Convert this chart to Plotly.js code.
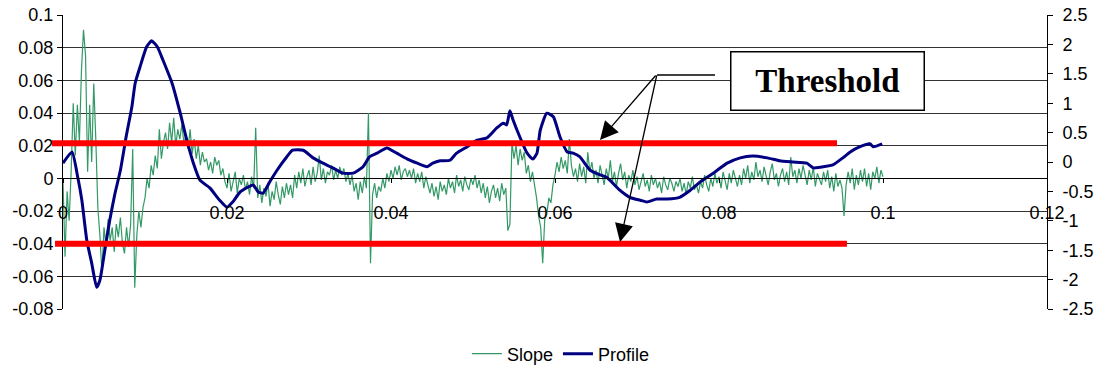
<!DOCTYPE html>
<html>
<head>
<meta charset="utf-8">
<script src="https://cdn.plot.ly/plotly-3.0.1.min.js"></script>
<style>
html,body{margin:0;padding:0;background:#fff;}
#chart{width:1101px;height:368px;}
</style>
</head>
<body>
<div id="chart"></div>
<script>
// ---- Data ----
// Slope series: sampled every 0.00025 along x, from 0 to 0.1
var slopeStep = 0.00025;
var slopeValues = [
 -0.002,-0.048,-0.008,-0.026,0.005,0.046,0.014,0.045,0.022,0.066,
 0.091,0.075,0.004,0.045,0.010,0.058,0.024,-0.018,-0.035,-0.058,
 -0.030,-0.042,-0.025,-0.038,-0.030,-0.045,-0.028,-0.036,-0.024,-0.040,
 -0.046,-0.030,-0.042,-0.028,0.018,-0.067,-0.035,-0.020,-0.030,-0.018,
 -0.012,0.000,-0.006,0.008,0.002,0.014,0.006,0.030,0.012,0.022,
 0.028,0.018,0.034,0.022,0.037,0.020,0.030,0.024,0.033,0.021,
 0.027,0.018,0.030,0.015,0.024,0.012,0.020,0.008,0.016,0.010,
 0.012,0.005,0.010,0.003,0.013,0.008,0.011,0.002,0.006,-0.002,
 -0.006,0.003,-0.008,-0.001,0.004,-0.009,0.000,-0.004,0.002,-0.007,
 -0.002,-0.010,0.001,-0.006,0.031,-0.012,-0.004,-0.015,-0.006,-0.011,
 -0.003,-0.017,-0.008,-0.013,-0.002,-0.010,-0.016,-0.005,-0.012,-0.003,
 -0.010,-0.004,-0.012,0.002,-0.006,0.004,-0.003,0.006,-0.005,0.001,
 0.005,-0.004,0.007,-0.002,0.003,0.014,-0.001,0.006,-0.003,0.004,
 0.002,0.008,-0.001,0.005,0.000,0.007,0.002,0.006,-0.002,0.003,
 -0.004,0.002,-0.008,-0.003,-0.013,-0.002,-0.009,0.001,-0.006,0.040,
 -0.052,-0.010,-0.003,-0.012,-0.005,-0.008,0.000,-0.006,0.003,-0.002,
 0.005,0.000,0.007,0.002,0.008,-0.001,0.004,0.006,0.001,0.005,
 0.000,0.006,-0.003,0.003,-0.002,0.004,-0.006,0.001,-0.004,-0.009,
 -0.003,-0.011,-0.005,-0.013,-0.002,-0.008,-0.004,-0.010,0.000,-0.006,
 -0.002,-0.009,0.002,-0.005,-0.001,-0.008,0.001,-0.004,-0.007,0.000,
 -0.004,0.002,-0.006,-0.001,-0.009,-0.003,-0.012,-0.005,-0.015,-0.008,
 -0.004,-0.012,-0.006,-0.014,-0.003,-0.010,-0.006,-0.032,-0.028,0.022,
 0.012,0.020,0.008,0.018,0.011,0.016,0.003,0.008,-0.002,0.004,
 -0.004,-0.012,-0.023,-0.030,-0.052,-0.025,-0.022,-0.012,-0.015,-0.004,
 0.002,0.010,0.004,0.013,0.006,0.011,0.003,0.024,0.008,0.001,
 0.006,-0.002,0.009,0.001,0.007,-0.003,0.016,0.004,0.010,0.000,
 0.005,-0.003,0.008,0.002,-0.004,0.006,0.000,0.011,-0.002,0.004,
 -0.005,0.003,0.009,-0.001,0.004,-0.006,0.002,-0.002,0.005,-0.004,
 0.001,-0.007,-0.002,0.003,-0.005,-0.001,-0.008,0.002,-0.004,0.000,
 -0.006,-0.002,-0.009,0.001,-0.004,-0.007,0.000,-0.003,-0.008,-0.002,
 -0.005,0.000,-0.008,-0.003,-0.010,-0.002,-0.006,0.001,-0.007,-0.004,
 -0.009,-0.002,-0.006,0.002,-0.004,-0.008,0.000,-0.005,0.003,-0.003,
 0.001,-0.006,0.004,-0.002,-0.007,0.003,-0.003,0.005,-0.001,-0.005,
 0.002,-0.004,0.006,0.000,0.008,-0.003,0.004,-0.001,0.010,0.001,
 0.005,-0.002,0.007,0.001,-0.004,0.004,0.009,-0.001,0.003,-0.005,
 0.002,0.006,-0.002,0.004,-0.004,0.013,0.001,0.005,-0.003,0.006,
 0.000,0.008,0.002,-0.004,0.005,-0.001,0.007,-0.005,0.003,0.000,
 -0.004,0.004,-0.002,0.005,-0.006,0.001,-0.008,0.003,-0.005,-0.001,
 -0.006,-0.023,-0.004,0.004,-0.003,0.006,-0.007,0.002,-0.004,0.005,
 -0.002,0.006,-0.005,0.003,-0.007,0.004,0.000,0.007,-0.003,0.005,
 0.001
];

// Profile series (right axis)
var profileX = [
 0.0000,0.0011,0.0018,0.0023,0.0029,0.0035,0.0041,0.0045,0.0051,0.0057,
 0.0063,0.0070,0.0077,0.0084,0.0088,0.0094,0.0102,0.0108,0.0115,0.0122,
 0.0133,0.0143,0.0151,0.0159,0.0167,0.0179,0.0191,0.0200,0.0207,0.0216,
 0.0232,0.0238,0.0244,0.0252,0.0261,0.0273,0.0280,0.0293,0.0305,0.0317,
 0.0329,0.0341,0.0354,0.0366,0.0374,0.0383,0.0395,0.0407,0.0420,0.0432,
 0.0444,0.0451,0.0460,0.0472,0.0480,0.0493,0.0505,0.0517,0.0529,0.0537,
 0.0541,0.0545,0.0549,0.0557,0.0566,0.0573,0.0578,0.0582,0.0590,0.0598,
 0.0606,0.0615,0.0622,0.0630,0.0643,0.0655,0.0663,0.0679,0.0691,0.0704,
 0.0712,0.0724,0.0737,0.0752,0.0765,0.0777,0.0793,0.0810,0.0826,0.0841,
 0.0859,0.0874,0.0890,0.0907,0.0915,0.0932,0.0939,0.0951,0.0960,0.0972,
 0.0984,0.0988,0.0999
];
var profileY = [
 -0.02,0.17,-0.26,-0.65,-1.33,-1.72,-2.13,-2.01,-1.50,-0.99,
 -0.56,-0.14,0.43,0.94,1.34,1.62,1.96,2.06,1.96,1.73,
 1.34,0.83,0.37,-0.02,-0.31,-0.44,-0.65,-0.77,-0.68,-0.51,
 -0.39,-0.51,-0.53,-0.34,-0.14,0.09,0.20,0.20,0.07,-0.02,
 -0.10,-0.19,-0.19,-0.08,0.09,0.15,0.24,0.15,0.05,-0.02,
 -0.08,-0.02,0.02,0.03,0.15,0.26,0.37,0.41,0.58,0.66,
 0.63,0.87,0.71,0.43,0.15,0.05,0.15,0.54,0.83,0.77,
 0.43,0.17,0.15,0.09,-0.14,-0.22,-0.26,-0.48,-0.60,-0.65,
 -0.68,-0.63,-0.63,-0.60,-0.48,-0.34,-0.19,-0.02,0.07,0.10,
 0.07,0.02,0.00,-0.02,-0.10,-0.07,-0.05,0.07,0.17,0.26,
 0.31,0.26,0.31
];

// Threshold levels (left axis units)
var thresholdUpper = 0.0215;
var thresholdLower = -0.04;

// Tick labels
var leftTickVals = [0.1,0.08,0.06,0.04,0.02,0,-0.02,-0.04,-0.06,-0.08];
var leftTickText = ["0.1","0.08","0.06","0.04","0.02","0","-0.02","-0.04","-0.06","-0.08"];
var rightTickVals = [2.5,2,1.5,1,0.5,0,-0.5,-1,-1.5,-2,-2.5];
var rightTickText = ["2.5","2","1.5","1","0.5","0","-0.5","-1","-1.5","-2","-2.5"];
var xTickVals = [0,0.02,0.04,0.06,0.08,0.1,0.12];
var xTickText = ["0","0.02","0.04","0.06","0.08","0.1","0.12"];

// ---- Build ----
var slopeX = slopeValues.map(function(_, i){ return +(i*slopeStep).toFixed(6); });

var FONT = 'Arial, "Liberation Sans", sans-serif';

var traces = [
  {x: slopeX, y: slopeValues, name: 'Slope', type: 'scatter', mode: 'lines',
   line: {color: '#339966', width: 1.2}, xaxis: 'x', yaxis: 'y'},
  {x: profileX, y: profileY, name: 'Profile', type: 'scatter', mode: 'lines',
   line: {color: '#000080', width: 3, shape: 'spline', smoothing: 0.5}, xaxis: 'x', yaxis: 'y2'}
];

var ymin = -0.08, ymax = 0.1;
var zeroPos = (0 - ymin) / (ymax - ymin);

var layout = {
  width: 1101, height: 368,
  margin: {l: 63, r: 54, t: 15, b: 59, pad: 0, autoexpand: false},
  paper_bgcolor: '#fff', plot_bgcolor: '#fff',
  font: {family: FONT, size: 18, color: '#000'},
  showlegend: true,
  legend: {orientation: 'h', x: 0.506, xanchor: 'center', y: -0.153, yanchor: 'middle',
           font: {family: FONT, size: 18, color: '#000'}, tracegroupgap: 0,
           bgcolor: 'rgba(0,0,0,0)'},
  xaxis: {range: [0, 0.12], tickvals: xTickVals, ticktext: xTickText,
          anchor: 'free', position: zeroPos, showgrid: false, zeroline: false,
          showline: true, linecolor: '#000', linewidth: 1,
          ticks: 'outside', ticklen: 4, tickcolor: '#000', ticklabelstandoff: 14,
          tickfont: {family: FONT, size: 18, color: '#000'}, fixedrange: true},
  yaxis: {range: [ymin, ymax], tickvals: leftTickVals, ticktext: leftTickText,
          showgrid: true, gridcolor: '#333333', gridwidth: 1, zeroline: false,
          showline: true, linecolor: '#000', linewidth: 1,
          ticks: 'outside', ticklen: 5, tickcolor: '#000', ticklabelstandoff: 0,
          tickfont: {family: FONT, size: 18, color: '#000'}, fixedrange: true},
  yaxis2: {range: [-2.5, 2.5], tickvals: rightTickVals, ticktext: rightTickText,
           overlaying: 'y', side: 'right', showgrid: false, zeroline: false,
           showline: true, linecolor: '#000', linewidth: 1,
           ticks: 'outside', ticklen: 5, tickcolor: '#000', ticklabelstandoff: 6,
           tickfont: {family: FONT, size: 18, color: '#000'}, fixedrange: true},
  shapes: [
    {type: 'line', xref: 'paper', yref: 'y', x0: -0.0112, x1: 0.7866,
     y0: thresholdUpper, y1: thresholdUpper, line: {color: '#ff0000', width: 6}},
    {type: 'line', xref: 'paper', yref: 'y', x0: -0.0081, x1: 0.7967,
     y0: thresholdLower, y1: thresholdLower, line: {color: '#ff0000', width: 6}},
    {type: 'line', xref: 'paper', yref: 'paper', x0: 0.6037, x1: 0.6626,
     y0: 0.7959, y1: 0.7959, line: {color: '#000', width: 1.3}}
  ],
  annotations: [
    {text: '<b>Threshold</b>', xref: 'paper', yref: 'paper', x: 0.7765, y: 0.7755,
     xanchor: 'center', yanchor: 'middle', showarrow: false,
     font: {family: '"Times New Roman", "Liberation Serif", serif', size: 33, color: '#000'},
     bordercolor: '#000', borderwidth: 1.5, borderpad: 0, bgcolor: '#fff',
     width: 192, height: 57},
    {text: '', xref: 'paper', yref: 'paper', x: 0.5457, y: 0.5748,
     ax: 57, ay: -66, axref: 'pixel', ayref: 'pixel', showarrow: true,
     arrowhead: 2, arrowsize: 2.8, arrowwidth: 1.3, arrowcolor: '#000'},
    {text: '', xref: 'paper', yref: 'paper', x: 0.5661, y: 0.2279,
     ax: 37, ay: -168, axref: 'pixel', ayref: 'pixel', showarrow: true,
     arrowhead: 2, arrowsize: 2.8, arrowwidth: 1.3, arrowcolor: '#000'}
  ]
};

Plotly.newPlot('chart', traces, layout, {displayModeBar: false, staticPlot: true});
</script>
</body>
</html>
